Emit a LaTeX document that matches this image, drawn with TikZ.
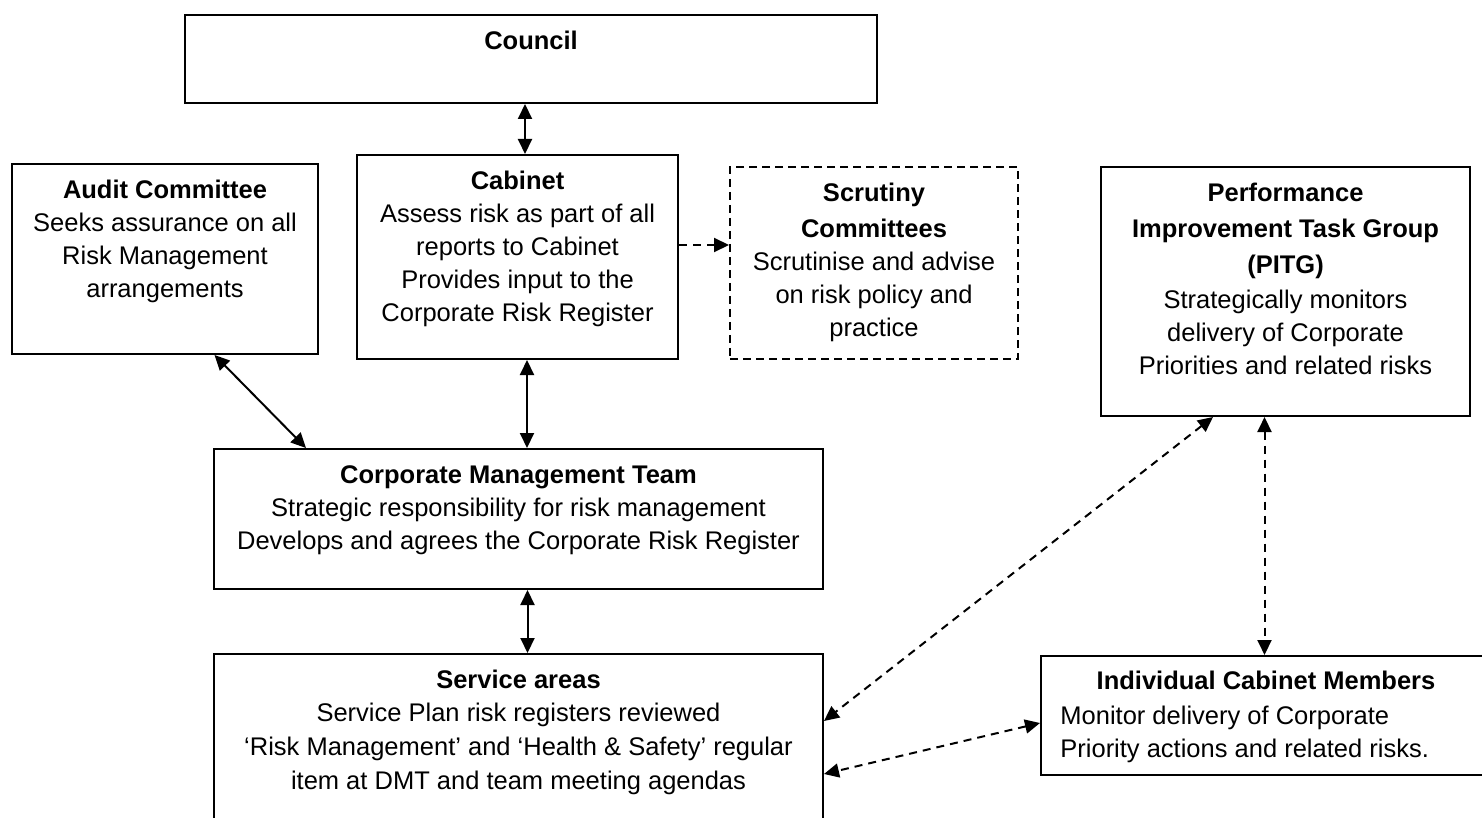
\documentclass[tikz,border=0pt]{standalone}
\usepackage{fontspec}
\setmainfont{Liberation Sans}
\usetikzlibrary{arrows.meta, positioning}

\begin{document}
\begin{tikzpicture}[
        x=0.5pt, y=-0.5pt,
        box/.style={rectangle, draw=black, line width=1pt, anchor=north west, inner sep=0pt},
        dbox/.style={box, dash pattern=on 4pt off 2.5pt},
        txt/.style={anchor=north, align=center, inner sep=0pt, font=\fontsize{12.75}{16.5}\selectfont},
        twoway/.style={{Triangle[length=7.5pt,width=7pt]}-{Triangle[length=7.5pt,width=7pt]}, line width=1pt},
        oneway/.style={-{Triangle[length=7.5pt,width=7pt]}, line width=1pt},
        dline/.style={dash pattern=on 4pt off 3pt}
    ]

    \useasboundingbox (0,0) rectangle (1482,818);

    % boxes
    \node[box, minimum width=346pt, minimum height=44pt] (council) at (184,14) {};
    \node[box, minimum width=153pt, minimum height=95pt] (audit) at (11,163) {};
    \node[box, minimum width=160.5pt, minimum height=102pt] (cab) at (356,154) {};
    \node[dbox, minimum width=144pt, minimum height=96pt] (scr) at (729,166) {};
    \node[box, minimum width=184.5pt, minimum height=124.5pt] (pitg) at (1100,166) {};
    \node[box, minimum width=304.5pt, minimum height=70pt] (cmt) at (213,448) {};
    \node[box, minimum width=304.5pt, minimum height=88.5pt] (serv) at (213,653) {};
    \node[box, minimum width=225pt, minimum height=59.5pt] (icm) at (1040,655) {};

    % texts
    \node[txt, below=8.5pt of council.north] (councilt) {\textbf{Council}};
    \node[txt, below=8.5pt of audit.north] (auditt) {\textbf{Audit Committee}\\Seeks assurance on all\\Risk Management\\arrangements};
    \node[txt, below=8.5pt of cab.north] (cabt) {\textbf{Cabinet}\\Assess risk as part of all\\reports to Cabinet\\Provides input to the\\Corporate Risk Register};
    \node[txt, below=8.5pt of scr.north] (scrt) {\textbf{Scrutiny}\\[1.5pt]\textbf{Committees}\\Scrutinise and advise\\on risk policy and\\practice};
    \node[txt, below=8.5pt of pitg.north] (pitgt) {\textbf{Performance}\\[1.5pt]\textbf{Improvement Task Group}\\[1.5pt]\textbf{(PITG)}\\[1pt]Strategically monitors\\delivery of Corporate\\Priorities and related risks};
    \node[txt, below=8.5pt of cmt.north] (cmtt) {\textbf{Corporate Management Team}\\Strategic responsibility for risk management\\Develops and agrees the Corporate Risk Register};
    \node[txt, below=8.5pt of serv.north] (servt) {\textbf{Service areas}\\Service Plan risk registers reviewed\\[0.5pt]‘Risk Management’ and ‘Health \& Safety’ regular\\[0.5pt]item at DMT and team meeting agendas};
    \node[txt, below=8pt of icm.north] (icmt) {\textbf{Individual Cabinet Members}};
    \node[txt, anchor=north west, align=left] (icmb) at ([xshift=10pt,yshift=-25.5pt]icm.north west) {Monitor delivery of Corporate\\Priority actions and related risks.};

    % connectors
    \draw[twoway] ([xshift=3.75pt]cab.north) -- ([xshift=3.75pt]cab.north |- council.south);
    \draw[twoway] ([xshift=24.75pt]audit.south) -- ([xshift=-106.25pt]cmt.north);
    \draw[twoway] ([xshift=4.75pt]cab.south) -- ([xshift=4.75pt]cab.south |- cmt.north);
    \draw[oneway, dline] ([yshift=6pt]cab.east) -- ([yshift=6pt]cab.east -| scr.west);
    \draw[twoway] ([xshift=4.5pt]cmt.south) -- ([xshift=4.5pt]cmt.south |- serv.north);
    \draw[twoway, dline] ([xshift=-36.25pt]pitg.south) -- ([yshift=10.75pt]serv.east);
    \draw[twoway, dline] ([xshift=-10.5pt]pitg.south) -- ([xshift=-10.5pt]pitg.south |- icm.north);
    \draw[twoway, dline] ([yshift=-3.75pt]icm.west) -- ([yshift=-15.75pt]serv.east);

\end{tikzpicture}
\end{document}
